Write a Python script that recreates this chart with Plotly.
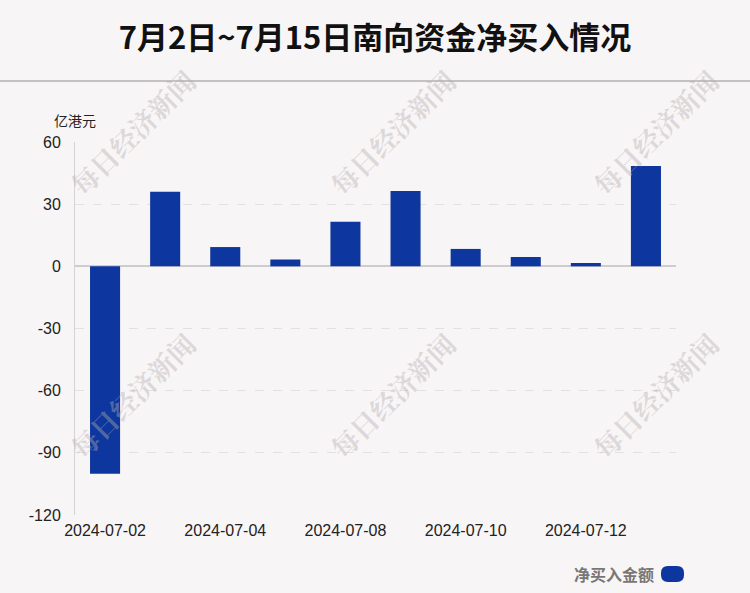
import plotly.graph_objects as go

dates = ["2024-07-02", "2024-07-03", "2024-07-04", "2024-07-05", "2024-07-08",
         "2024-07-09", "2024-07-10", "2024-07-11", "2024-07-12", "2024-07-15"]
net_buy = [-100.1, 36.0, 9.3, 3.3, 21.5, 36.3, 8.4, 4.5, 1.6, 48.4]
tick_dates = dates[::2]
y_ticks = [60, 30, 0, -30, -60, -90, -120]
y_tick_text = ["60", "30", "0", "-30", "-60", "-90", "-120"]
title_text = "7月2日~7月15日南向资金净买入情况"
unit_text = "亿港元"
legend_text = "净买入金额"
watermark = "每日经济新闻"

W, H = 750, 593
L, R, T, B = 75, 74, 142, 78
PW, PH = W - L - R, H - T - B
BG = "#f8f5f6"
BAR = "#0d369e"

def px(x):
    return (x - L) / PW

def py(y):
    return (H - B - y) / PH

fig = go.Figure()
fig.add_trace(go.Bar(x=dates, y=net_buy, marker=dict(color=BAR, line=dict(width=0)),
                     showlegend=False, hoverinfo="x+y"))

fig.update_layout(
    width=W, height=H,
    margin=dict(l=L, r=R, t=T, b=B),
    paper_bgcolor=BG, plot_bgcolor=BG,
    bargap=0.5,
    font=dict(family="Liberation Sans, Arial, sans-serif", color="#222"),
    title=dict(text="<b>" + title_text + "</b>", x=0.5, xanchor="center",
               y=1 - 38 / H, yanchor="middle", yref="container",
               font=dict(size=31, color="#111", family="Noto Sans CJK SC, sans-serif")),
)
fig.update_xaxes(type="category", tickmode="array", tickvals=tick_dates, ticktext=tick_dates,
                 showgrid=False, showline=False, zeroline=False,
                 tickfont=dict(size=16, color="#222"), ticks="", ticklabelstandoff=4)
fig.update_yaxes(range=[-120, 60], tickmode="array", tickvals=y_ticks, ticktext=y_tick_text,
                 showgrid=True, gridcolor="#e3e0e1", griddash="dash", gridwidth=1,
                 zeroline=True, zerolinecolor="#cfcccd", zerolinewidth=2,
                 showline=True, linecolor="#d6d3d4", linewidth=1,
                 tickfont=dict(size=16, color="#222"), ticks="", ticklabelstandoff=10)

shapes = [dict(type="line", xref="paper", yref="paper", x0=px(0), x1=px(W),
               y0=py(81), y1=py(81), line=dict(color="#c4c1c2", width=2))]
# legend marker (rounded)
x0, x1, y0, y1 = 661, 684, 566, 582
r = 7
path = (f"M {px(x0 + r)} {py(y0)} L {px(x1 - r)} {py(y0)} Q {px(x1)} {py(y0)} {px(x1)} {py(y0 + r)} "
        f"L {px(x1)} {py(y1 - r)} Q {px(x1)} {py(y1)} {px(x1 - r)} {py(y1)} "
        f"L {px(x0 + r)} {py(y1)} Q {px(x0)} {py(y1)} {px(x0)} {py(y1 - r)} "
        f"L {px(x0)} {py(y0 + r)} Q {px(x0)} {py(y0)} {px(x0 + r)} {py(y0)} Z")
shapes.append(dict(type="path", xref="paper", yref="paper", path=path,
                   fillcolor=BAR, line=dict(width=0)))
fig.update_layout(shapes=shapes)

ann = [
    dict(text=unit_text, x=px(75), y=py(120), xref="paper", yref="paper",
         showarrow=False, xanchor="center", yanchor="middle",
         font=dict(size=14, color="#222", family="Noto Sans CJK SC, sans-serif")),
    dict(text="<b>" + legend_text + "</b>", x=px(656), y=py(574), xref="paper", yref="paper",
         showarrow=False, xanchor="right", yanchor="middle",
         font=dict(size=16, color="#777", family="Noto Sans CJK SC, sans-serif")),
]
for cx in (132, 392, 655):
    for cy in (132, 395):
        ann.append(dict(text="<b>" + watermark + "</b>", x=px(cx), y=py(cy), xref="paper", yref="paper",
                        showarrow=False, textangle=-45, xanchor="center", yanchor="middle",
                        font=dict(size=27, color="rgba(180,176,177,0.42)",
                                  family="Noto Serif CJK SC, Noto Sans CJK SC, serif")))
fig.update_layout(annotations=ann)

fig.write_html("out.html", config={"displayModeBar": False},
               post_script="document.body.style.margin='0';document.body.style.overflow='hidden';")
